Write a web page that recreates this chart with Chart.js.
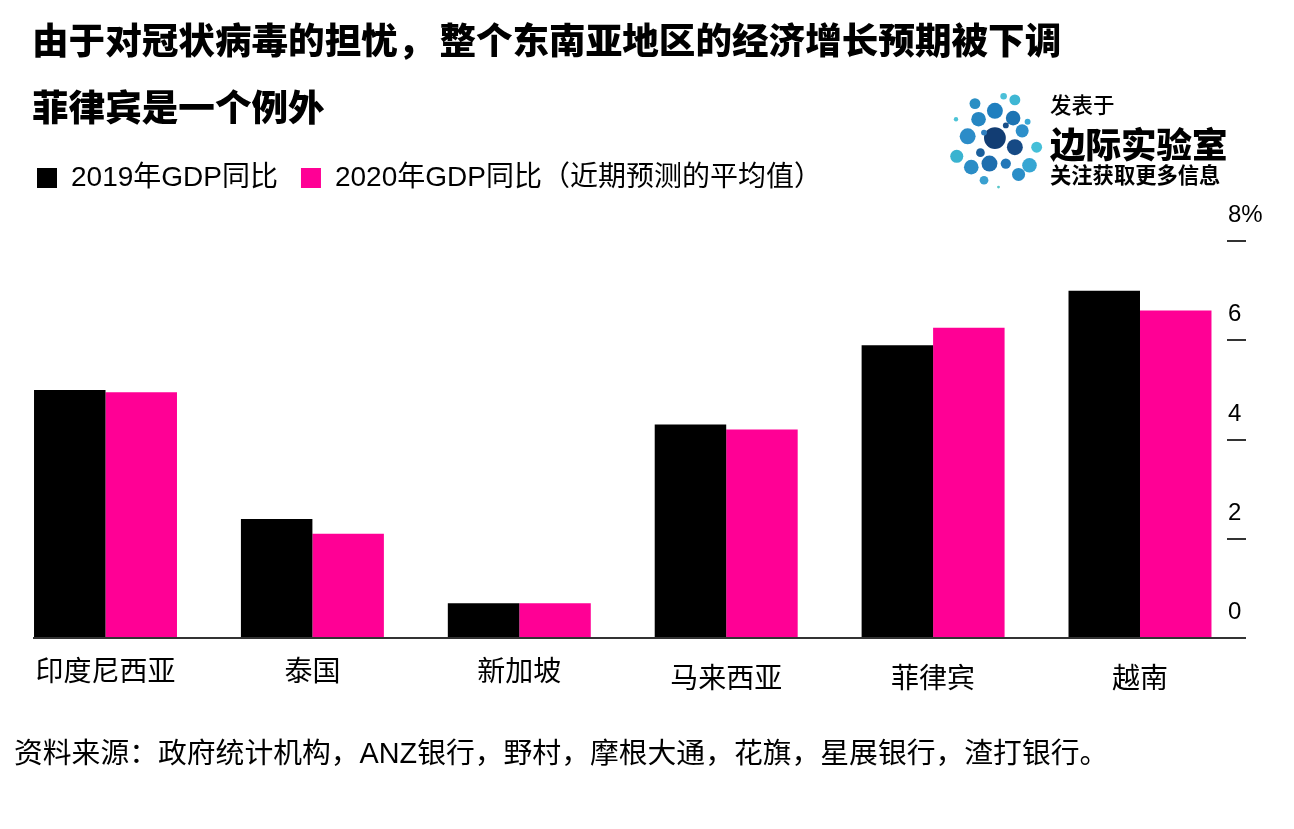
<!DOCTYPE html>
<html>
<head>
<meta charset="utf-8">
<script src="https://cdn.jsdelivr.net/npm/chart.js@4.4.1/dist/chart.umd.min.js"></script>
<style>
  html, body { margin: 0; padding: 0; background: #fff; }
  body { width: 1294px; height: 829px; position: relative; overflow: hidden; }
  #wrap { position: absolute; left: 0; top: 0; width: 1294px; height: 829px; }
  .txt { position: absolute; white-space: nowrap; color: #000; }
  .title { font-family: "Noto Sans CJK SC", sans-serif; font-weight: 900; font-size: 36.6px; line-height: 36.6px; left: 32px; }
  #source { font-family: "Liberation Sans", "Noto Sans CJK SC", sans-serif; font-size: 28.8px; line-height: 28.8px; left: 14px; top: 739px; }
  #logo { position: absolute; left: 940px; top: 88px; width: 300px; height: 110px; }
  .lg { font-family: "Noto Sans CJK SC", sans-serif; position: absolute; left: 110px; white-space: nowrap; color: #000; }
</style>
</head>
<body>
<div id="wrap"><canvas id="c"></canvas></div>
<div class="txt title" style="top:21px;">由于对冠状病毒的担忧，<span style="margin-left:5px">整个东南亚地区的经济增长预期被下调</span></div>
<div class="txt title" style="top:88px;">菲律宾是一个例外</div>
<div id="logo">
  <svg width="110" height="110" viewBox="940 88 110 110" style="position:absolute;left:0;top:0">
    <g transform="translate(996 141) scale(1.09) translate(-996 -141)">
    <circle cx="976.7" cy="106.7" r="5" fill="#2a8fc4"/>
    <circle cx="995" cy="113.3" r="7.3" fill="#1f7fbf"/>
    <circle cx="1013.3" cy="103.3" r="5" fill="#3fb7d4"/>
    <circle cx="1011.7" cy="120" r="6.7" fill="#1d74b3"/>
    <circle cx="959.3" cy="121" r="2" fill="#4cc3d6"/>
    <circle cx="980" cy="121" r="6.7" fill="#2586c2"/>
    <circle cx="1025" cy="123.3" r="2.7" fill="#3aa9d6"/>
    <circle cx="970" cy="136.7" r="7.3" fill="#2c8cc8"/>
    <circle cx="995" cy="138.3" r="10" fill="#123d73"/>
    <circle cx="1020" cy="131.7" r="6" fill="#2d8fca"/>
    <circle cx="1033.3" cy="146.7" r="5" fill="#45bfd8"/>
    <circle cx="960" cy="155" r="6" fill="#3ab3d0"/>
    <circle cx="981.7" cy="151.7" r="4" fill="#1b5f9c"/>
    <circle cx="1013.3" cy="146.7" r="7.3" fill="#164a85"/>
    <circle cx="990" cy="161.7" r="7.3" fill="#1e6eae"/>
    <circle cx="973.3" cy="165" r="6.7" fill="#2b8dc6"/>
    <circle cx="1005" cy="161.7" r="4.7" fill="#2377b8"/>
    <circle cx="1026.7" cy="163.3" r="6.7" fill="#36a6d3"/>
    <circle cx="1016.7" cy="171.7" r="6" fill="#2a8dc7"/>
    <circle cx="998.3" cy="183.3" r="1.3" fill="#56c6c9"/>
    <circle cx="985" cy="133.3" r="2.7" fill="#2f7fc0"/>
    <circle cx="1005" cy="126.7" r="2.7" fill="#1a4f88"/>
    <circle cx="985" cy="177" r="4" fill="#3aa0d0"/>
    <circle cx="1003" cy="100" r="3" fill="#4cc0d8"/>
    </g>
  </svg>
  <div class="lg" style="top:5px;font-size:21.5px;line-height:21.5px;font-weight:500;">发表于</div>
  <div class="lg" style="top:37px;font-size:35.5px;line-height:35.5px;font-weight:900;">边际实验室</div>
  <div class="lg" style="top:75px;font-size:21.3px;line-height:21.3px;font-weight:700;">关注获取更多信息</div>
</div>
<div id="source" class="txt">资料来源：政府统计机构，ANZ银行，野村，摩根大通，花旗，星展银行，渣打银行。</div>
<script>
// ---- data ----
const categories = ['印度尼西亚', '泰国', '新加坡', '马来西亚', '菲律宾', '越南'];
const gdp2019 = [5.0, 2.4, 0.7, 4.3, 5.9, 7.0];
const gdp2020 = [4.95, 2.1, 0.7, 4.2, 6.25, 6.6];
const seriesLabels = ['2019年GDP同比', '2020年GDP同比（近期预测的平均值）'];
const yTickValues = [0, 2, 4, 6, 8];
const yTickLabels = ['0', '2', '4', '6', '8%'];

const FONT = '"Liberation Sans", "Noto Sans CJK SC", sans-serif';
const toPoints = arr => arr.map((v, i) => ({ x: i, y: v }));

const chart = new Chart(document.getElementById('c'), {
  type: 'bar',
  data: {
    datasets: [
      { label: seriesLabels[0], data: toPoints(gdp2019), xAxisID: 'x', yAxisID: 'y', backgroundColor: '#000000', borderColor: '#000000', borderWidth: 0 },
      { label: seriesLabels[1], data: toPoints(gdp2020), xAxisID: 'x', yAxisID: 'y', backgroundColor: '#ff0095', borderColor: '#ff0095', borderWidth: 0 }
    ]
  },
  options: {
    responsive: true,
    maintainAspectRatio: false,
    animation: false,
    devicePixelRatio: 1,
    datasets: { bar: { categoryPercentage: 0.691, barPercentage: 1.0 } },
    layout: { padding: { top: 141, left: 14, right: 0, bottom: 0 } },
    plugins: {
      title: { display: false },
      tooltip: { enabled: false },
      legend: {
        display: true,
        position: 'top',
        align: 'start',
        labels: {
          boxWidth: 20,
          boxHeight: 20,
          padding: 23,
          color: '#000',
          font: { family: FONT, size: 28 }
        }
      }
    },
    scales: {
      x: {
        type: 'linear',
        position: 'bottom',
        offset: false,
        min: -0.3456,
        max: 5.4205,
        grid: { display: false, drawTicks: false, offset: false },
        border: { display: true, color: '#333', width: 2 },
        afterBuildTicks: s => { s.ticks = categories.map((c, i) => ({ value: i })); },
        afterFit: s => { s.height = 191; },
        ticks: {
          autoSkip: false,
          maxRotation: 0,
          minRotation: 0,
          padding: 18.5,
          color: '#000',
          font: ctx => ({ family: FONT, size: 28, lineHeight: ctx.index >= 3 ? 1.7 : 1.2 }),
          callback: v => categories[v]
        }
      },
      xTop: {
        type: 'linear',
        position: 'top',
        display: true,
        grid: { display: false, drawTicks: false },
        border: { display: false },
        ticks: { display: false },
        afterFit: s => { s.height = 39; }
      },
      yLeft: {
        type: 'linear',
        position: 'left',
        display: true,
        grid: { display: false, drawTicks: false },
        border: { display: false },
        ticks: { display: false },
        afterFit: s => { s.width = 20; }
      },
      y: {
        type: 'linear',
        position: 'right',
        min: 0,
        max: 8,
        grid: { display: true, drawOnChartArea: false, drawTicks: true, tickLength: 19, tickColor: '#333', lineWidth: 2 },
        border: { display: false },
        afterFit: s => { s.width = 67; },
        ticks: {
          stepSize: 2,
          autoSkip: false,
          padding: -18,
          labelOffset: -25.5,
          color: '#000',
          font: { family: FONT, size: 24 },
          callback: v => yTickLabels[yTickValues.indexOf(v)]
        }
      }
    }
  }
});
</script>
</body>
</html>
